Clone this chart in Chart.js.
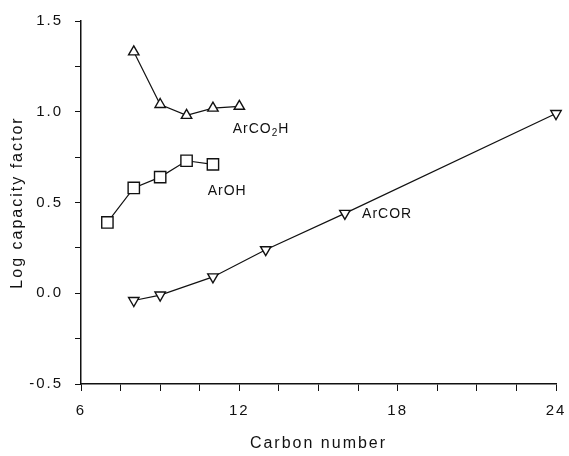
<!DOCTYPE html>
<html>
<head>
<meta charset="utf-8">
<script src="https://cdn.jsdelivr.net/npm/chart.js@4.4.0/dist/chart.umd.min.js"></script>
<style>
    body { margin: 0; background: #fff; }
    #wrap { width: 569px; height: 456px; }
</style>
</head>
<body>
<div id="wrap"><canvas id="chart" width="569" height="456"></canvas></div>
<script>
// carbon numbers and log capacity factors
const acidCarbons = [8, 9, 10, 11, 12];
const acidValues = [1.33, 1.04, 0.98, 1.02, 1.03];

const phenolCarbons = [7, 8, 9, 10, 11];
const phenolValues = [0.39, 0.58, 0.64, 0.73, 0.71];

const ketoneCarbons = [8, 9, 11, 13, 16, 24];
const ketoneValues = [-0.04, -0.01, 0.09, 0.24, 0.44, 0.99];

const xTickLabels = [6, 12, 18, 24];
const yTickLabels = [-0.5, 0.0, 0.5, 1.0, 1.5];

// label text, placed in data units (x = left edge, y = middle)
const seriesLabels = [
    { text: "ArCO", sub: "2", tail: "H", x: 11.75, y: 0.905 },
    { text: "ArOH", sub: "", tail: "", x: 10.8, y: 0.565 },
    { text: "ArCOR", sub: "", tail: "", x: 16.65, y: 0.438 }
];

const FONT = "'Liberation Sans', Arial, sans-serif";

function toPoints(xs, ys) {
    return xs.map((x, i) => ({ x: x, y: ys[i] }));
}

function series(xs, ys, style, rotation, radius) {
    return {
        data: toPoints(xs, ys),
        showLine: true,
        clip: false,
        borderColor: "#111",
        borderWidth: 1.2,
        pointStyle: style,
        rotation: rotation,
        pointRadius: radius,
        pointBorderColor: "#111",
        pointBorderWidth: 1.4,
        pointBackgroundColor: "#fff",
        tension: 0
    };
}

// widen letters a bit, the original lettering is loosely spaced
const spacingPlugin = {
    id: "spacing",
    beforeLayout(chart) { chart.ctx.letterSpacing = "2px"; },
    beforeDraw(chart) { chart.ctx.letterSpacing = "2px"; }
};

const labelPlugin = {
    id: "seriesLabels",
    afterDatasetsDraw(chart) {
        const ctx = chart.ctx;
        const xs = chart.scales.x;
        const ys = chart.scales.y;
        ctx.save();
        ctx.letterSpacing = "1px";
        ctx.fillStyle = "#111";
        ctx.textBaseline = "middle";
        ctx.textAlign = "left";
        seriesLabels.forEach(lab => {
            let px = xs.getPixelForValue(lab.x);
            const py = ys.getPixelForValue(lab.y);
            ctx.font = "14px " + FONT;
            ctx.fillText(lab.text, px, py);
            px += ctx.measureText(lab.text).width;
            if (lab.sub) {
                ctx.font = "10px " + FONT;
                ctx.fillText(lab.sub, px, py + 4);
                px += ctx.measureText(lab.sub).width;
                ctx.font = "14px " + FONT;
                ctx.fillText(lab.tail, px, py);
            }
        });
        ctx.restore();
    }
};

const ctx = document.getElementById("chart").getContext("2d");

new Chart(ctx, {
    type: "scatter",
    data: {
        datasets: [
            series(acidCarbons, acidValues, "triangle", 0, 6),
            series(phenolCarbons, phenolValues, "rect", 0, 8),
            series(ketoneCarbons, ketoneValues, "triangle", 180, 6)
        ]
    },
    options: {
        responsive: false,
        animation: false,
        layout: { padding: { top: 18, right: 13, left: 0, bottom: 0 } },
        plugins: {
            legend: { display: false },
            tooltip: { enabled: false }
        },
        scales: {
            x: {
                type: "linear",
                min: 6,
                max: 24,
                afterFit(scale) {
                    scale.height = 72;
                    scale.paddingLeft = 0;
                    scale.paddingRight = 0;
                },
                border: { display: true, color: "#111", width: 1.5 },
                grid: { drawOnChartArea: false, drawTicks: true, tickLength: 7, color: "#111" },
                ticks: {
                    stepSize: 1.5,
                    autoSkip: false,
                    maxRotation: 0,
                    padding: 11,
                    color: "#111",
                    font: { family: FONT, size: 15 },
                    callback: v => xTickLabels.includes(v) ? String(v) : ""
                },
                title: {
                    display: true,
                    text: "Carbon number",
                    color: "#111",
                    font: { family: FONT, size: 16 },
                    padding: { top: 0, bottom: 3 }
                }
            },
            y: {
                type: "linear",
                min: -0.5,
                max: 1.5,
                afterFit(scale) { scale.width = 81; },
                border: { display: true, color: "#111", width: 1.5 },
                grid: { drawOnChartArea: false, drawTicks: true, tickLength: 6, color: "#111" },
                ticks: {
                    stepSize: 0.25,
                    autoSkip: false,
                    padding: 12,
                    color: "#111",
                    font: { family: FONT, size: 15 },
                    callback: v => {
                        const hit = yTickLabels.find(t => Math.abs(t - v) < 1e-6);
                        return hit === undefined ? "" : hit.toFixed(1);
                    }
                },
                title: {
                    display: true,
                    text: "Log capacity factor",
                    color: "#111",
                    font: { family: FONT, size: 16 },
                    padding: { top: 8, bottom: 0 }
                }
            }
        }
    },
    plugins: [spacingPlugin, labelPlugin]
});
</script>
</body>
</html>
